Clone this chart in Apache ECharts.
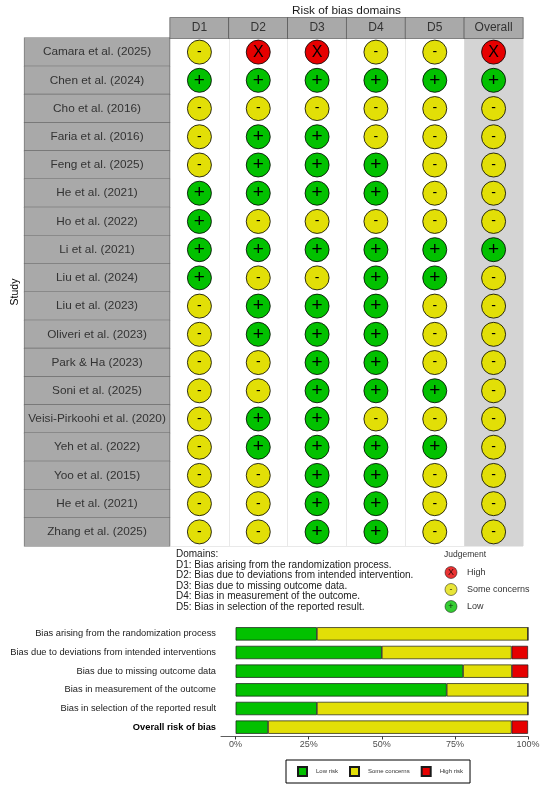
<!DOCTYPE html>
<html>
<head>
<meta charset="utf-8">
<script src="https://cdn.jsdelivr.net/npm/echarts@6/dist/echarts.min.js"></script>
<style>
  html, body { margin: 0; padding: 0; background: #fff; }
  #main { width: 550px; height: 789px; }
</style>
</head>
<body>
<div id="main"></div>
<script>
var studies = ['Camara et al. (2025)', 'Chen et al. (2024)', 'Cho et al. (2016)', 'Faria et al. (2016)',
  'Feng et al. (2025)', 'He et al. (2021)', 'Ho et al. (2022)', 'Li et al. (2021)', 'Liu et al. (2024)',
  'Liu et al. (2023)', 'Oliveri et al. (2023)', 'Park & Ha (2023)', 'Soni et al. (2025)',
  'Veisi-Pirkoohi et al. (2020)', 'Yeh et al. (2022)', 'Yoo et al. (2015)', 'He et al. (2021)',
  'Zhang et al. (2025)'];
var domains = ['D1', 'D2', 'D3', 'D4', 'D5', 'Overall'];

// judgement per study, L = low, S = some concerns, H = high
var d1 = ['S', 'L', 'S', 'S', 'S', 'L', 'L', 'L', 'L', 'S', 'S', 'S', 'S', 'S', 'S', 'S', 'S', 'S'];
var d2 = ['H', 'L', 'S', 'L', 'L', 'L', 'S', 'L', 'S', 'L', 'L', 'S', 'S', 'L', 'L', 'S', 'S', 'S'];
var d3 = ['H', 'L', 'S', 'L', 'L', 'L', 'S', 'L', 'S', 'L', 'L', 'L', 'L', 'L', 'L', 'L', 'L', 'L'];
var d4 = ['S', 'L', 'S', 'S', 'L', 'L', 'S', 'L', 'L', 'L', 'L', 'L', 'L', 'S', 'L', 'L', 'L', 'L'];
var d5 = ['S', 'L', 'S', 'S', 'S', 'S', 'S', 'L', 'L', 'S', 'S', 'S', 'L', 'S', 'L', 'S', 'S', 'S'];
var overall = ['H', 'L', 'S', 'S', 'S', 'S', 'S', 'L', 'S', 'S', 'S', 'S', 'S', 'S', 'S', 'S', 'S', 'S'];

var domainNotes = ['Domains:',
  'D1: Bias arising from the randomization process.',
  'D2: Bias due to deviations from intended intervention.',
  'D3: Bias due to missing outcome data.',
  'D4: Bias in measurement of the outcome.',
  'D5: Bias in selection of the reported result.'];

// summary plot (% of studies)
var summaryLabels = ['Bias arising from the randomization process',
  'Bias due to deviations from intended interventions',
  'Bias due to missing outcome data',
  'Bias in measurement of the outcome',
  'Bias in selection of the reported result',
  'Overall risk of bias'];
var lowPct = [27.8, 50, 77.8, 72.2, 27.8, 11.1];
var somePct = [72.2, 44.4, 16.7, 27.8, 72.2, 83.3];
var highPct = [0, 5.6, 5.6, 0, 0, 5.6];

var judgeLabels = ['High', 'Some concerns', 'Low'];

var levels = {
  L: { mark: '+', color: '#02C100', size: 19 },
  S: { mark: '-', color: '#E2DF07', size: 14 },
  H: { mark: 'X', color: '#E60000', size: 16 }
};
var judgeCodes = ['H', 'S', 'L'];

var cols = [d1, d2, d3, d4, d5, overall];

function pointsFor(code) {
  var out = [];
  cols.forEach(function(col, x) {
    col.forEach(function(v, y) {
      if (v === code) out.push([x, y]);
    });
  });
  return out;
}

var font = 'Liberation Sans, Arial, Helvetica, sans-serif';

var series = ['L', 'S', 'H'].map(function(code) {
  var lv = levels[code];
  return {
    name: 'tl-' + code,
    type: 'scatter',
    xAxisIndex: 0,
    yAxisIndex: 0,
    symbolSize: 24,
    silent: true,
    z: 3,
    itemStyle: { color: lv.color, borderColor: '#000', borderWidth: 0.8, opacity: 1 },
    label: {
      show: true, position: 'inside', formatter: lv.mark,
      color: '#000', fontSize: lv.size, fontFamily: font
    },
    data: pointsFor(code)
  };
});

// little judgement key
series.push({
  name: 'judgement-key',
  type: 'scatter',
  xAxisIndex: 2,
  yAxisIndex: 2,
  symbolSize: 12,
  silent: true,
  data: judgeCodes.map(function(code, i) {
    return {
      value: [0, i],
      itemStyle: { color: levels[code].color, borderColor: '#000', borderWidth: 0.6 },
      label: { show: true, position: 'inside', formatter: levels[code].mark,
        color: '#000', fontSize: 9, fontFamily: font }
    };
  })
});

[['Low risk', lowPct, '#02C100'], ['Some concerns', somePct, '#E2DF07'], ['High risk', highPct, '#E60000']]
  .forEach(function(s) {
    series.push({
      name: s[0],
      type: 'bar',
      xAxisIndex: 1,
      yAxisIndex: 1,
      stack: 'rob',
      barWidth: 13.3,
      silent: true,
      itemStyle: { color: s[2], borderColor: '#1a1a1a', borderWidth: 0.7 },
      data: s[1]
    });
  });

var chart = echarts.init(document.getElementById('main'));

var option = {
  animation: false,
  textStyle: { fontFamily: font },
  title: [{
    text: domainNotes.join('\n'),
    left: 176, top: 549, padding: 0,
    textStyle: { fontSize: 10, lineHeight: 10.6, fontWeight: 'normal', color: '#1a1a1a', fontFamily: font }
  }, {
    text: 'Judgement',
    left: 444, top: 550, padding: 0,
    textStyle: { fontSize: 8.5, fontWeight: 'normal', color: '#333', fontFamily: font }
  }],
  legend: {
    data: ['Low risk', 'Some concerns', 'High risk'],
    left: 286, top: 760,
    icon: 'rect',
    itemWidth: 9, itemHeight: 9, itemGap: 11,
    padding: [6, 7, 6, 11],
    borderColor: '#000', borderWidth: 1, borderRadius: 0,
    selectedMode: false,
    textStyle: { fontSize: 6, color: '#333', padding: [0, 0, 0, 4] }
  },
  grid: [
    { left: 170, right: 27, top: 38, height: 508, outerBoundsMode: 'none' },
    { left: 221, right: 22, top: 624.5, height: 112, outerBoundsMode: 'none' },
    { left: 444, top: 564, width: 14, height: 51, outerBoundsMode: 'none' }
  ],
  xAxis: [{
    type: 'category',
    gridIndex: 0,
    position: 'top',
    data: domains,
    name: 'Risk of bias domains',
    nameLocation: 'middle',
    nameGap: 21,
    nameMoveOverlap: false,
    nameTextStyle: { fontSize: 11.8, color: '#1a1a1a' },
    axisLine: { show: false },
    axisTick: { show: false },
    axisLabel: {
      interval: 0, margin: 0, width: 58.3, height: 20, lineHeight: 20,
      backgroundColor: '#a9a9a9', borderColor: '#5a5a5a', borderWidth: 0.8,
      color: '#333', fontSize: 12
    },
    splitLine: { show: true, interval: 0, lineStyle: { color: '#dadada', width: 0.6 } },
    splitArea: {
      show: true, interval: 0,
      areaStyle: { color: ['#ffffff', '#ffffff', '#ffffff', '#ffffff', '#ffffff', '#d4d4d4'] }
    }
  }, {
    type: 'value',
    gridIndex: 1,
    min: -5,
    max: 100,
    axisLine: { show: true, onZero: false, lineStyle: { color: '#333', width: 0.8 } },
    axisTick: { show: true, customValues: [0, 25, 50, 75, 100], length: 3, lineStyle: { color: '#333' } },
    axisLabel: {
      customValues: [0, 25, 50, 75, 100], formatter: '{value}%',
      color: '#4d4d4d', fontSize: 9, margin: 4
    },
    splitLine: { show: false }
  }, {
    type: 'category',
    gridIndex: 2,
    data: ['key'],
    show: false
  }],
  yAxis: [{
    type: 'category',
    gridIndex: 0,
    data: studies,
    inverse: true,
    name: 'Study',
    nameLocation: 'middle',
    nameGap: 149,
    nameMoveOverlap: false,
    nameRotate: 90,
    nameTextStyle: { fontSize: 10.5, color: '#000' },
    axisLine: { show: false },
    axisTick: { show: false },
    axisLabel: {
      interval: 0, align: 'center', margin: 73, width: 145, height: 28.2, lineHeight: 28,
      backgroundColor: '#a9a9a9', borderColor: '#6a6a6a', borderWidth: 0.6,
      color: '#333', fontSize: 11.8
    },
    splitLine: { show: true, interval: 0, lineStyle: { color: '#dadada', width: 0.6 } }
  }, {
    type: 'category',
    gridIndex: 1,
    data: summaryLabels,
    inverse: true,
    axisLine: { show: false, onZero: false },
    axisTick: { show: false },
    axisLabel: {
      interval: 0, margin: 5, fontSize: 9.3, color: '#1a1a1a',
      formatter: function(v, i) {
        return i === summaryLabels.length - 1 ? '{b|' + v + '}' : v;
      },
      rich: { b: { fontWeight: 'bold', fontSize: 9.3, color: '#000' } }
    }
  }, {
    type: 'category',
    gridIndex: 2,
    data: judgeLabels,
    inverse: true,
    position: 'right',
    axisLine: { show: false },
    axisTick: { show: false },
    axisLabel: { interval: 0, align: 'left', margin: 9, fontSize: 9, color: '#333' },
    splitLine: { show: false }
  }],
  series: series
};

chart.setOption(option);
</script>
</body>
</html>
